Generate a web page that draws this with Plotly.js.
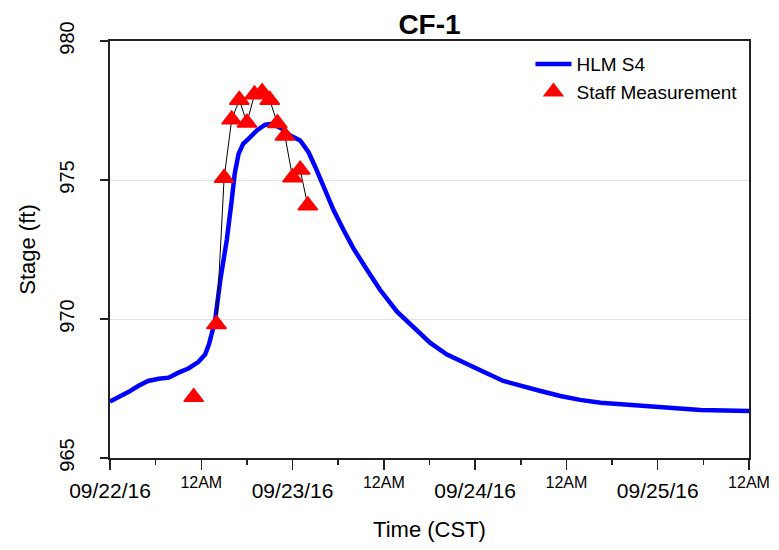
<!DOCTYPE html>
<html>
<head>
<meta charset="utf-8">
<script src="https://cdn.plot.ly/plotly-3.0.1.min.js"></script>
<style>html,body{margin:0;padding:0;background:#fff;}#chart{width:779px;height:550px;}</style>
</head>
<body>
<div id="chart"></div>
<script>
// Hours since 09/22/16 00:00 (CST)
var modelHours = [0, 1.1, 2.4, 3.7, 5.0, 6.4, 7.7, 9.0, 10.3, 11.6, 12.5, 13.0, 13.8, 14.5, 15.35, 16.0, 16.4, 16.9, 17.5, 18.2, 19.3, 20.4, 21.3, 22.6, 23.7, 25.0, 26.1, 27.0, 28.1, 29.4, 30.7, 32.0, 33.8, 35.5, 37.7, 39.9, 42.1, 44.3, 46.5, 49.1, 51.7, 53.9, 56.6, 59.2, 61.8, 64.5, 71.0, 77.6, 84.0];
var modelStage = [967.03, 967.17, 967.37, 967.59, 967.77, 967.85, 967.89, 968.07, 968.22, 968.45, 968.72, 969.08, 969.92, 971.4, 972.84, 974.27, 975.24, 975.94, 976.30, 976.48, 976.78, 976.99, 977.02, 976.84, 976.6, 976.42, 976.0, 975.46, 974.75, 973.91, 973.20, 972.54, 971.76, 971.05, 970.27, 969.68, 969.14, 968.72, 968.42, 968.10, 967.77, 967.59, 967.41, 967.23, 967.09, 966.99, 966.85, 966.73, 966.69];

var staffHours = [11, 14, 15, 16, 17, 18, 19, 20, 21, 22, 23, 24, 25, 26];
var staffStage = [967.19, 969.81, 975.07, 977.18, 977.88, 977.06, 978.08, 978.16, 977.88, 977.04, 976.59, 975.09, 975.37, 974.08];

var dateTickVals = [0, 24, 48, 72];
var dateTickText = ['09/22/16', '09/23/16', '09/24/16', '09/25/16'];
var noonTickVals = [12, 36, 60, 84];
var noonTickText = ['12AM', '12AM', '12AM', '12AM'];
var yTickVals = [965, 970, 975, 980];

var FONT = 'Liberation Sans, Arial, sans-serif';

// all major tick positions (dates + 12AM), labels only for dates on the main axis
var majorVals = dateTickVals.concat(noonTickVals).sort(function (a, b) { return a - b; });
var majorText = majorVals.map(function (v) {
  var i = dateTickVals.indexOf(v);
  return i >= 0 ? dateTickText[i] : ' ';
});

var traces = [
  {
    x: modelHours, y: modelStage, type: 'scatter', mode: 'lines', name: 'HLM S4',
    line: {color: '#0000ff', width: 4.5}
  },
  {
    x: staffHours.slice(1), y: staffStage.slice(1), type: 'scatter', mode: 'lines',
    showlegend: false, hoverinfo: 'skip',
    line: {color: '#000000', width: 1}
  },
  {
    x: staffHours, y: staffStage, type: 'scatter', mode: 'markers', name: 'Staff Measurement',
    xaxis: 'x2',
    marker: {symbol: 'triangle-up', size: 17, color: '#ff0000', line: {color: '#ff0000', width: 1.5}}
  }
];

var layout = {
  width: 779, height: 550,
  margin: {l: 110, r: 30, t: 41, b: 92},
  paper_bgcolor: '#ffffff', plot_bgcolor: '#ffffff',
  font: {family: FONT, color: '#000000'},
  showlegend: true,
  title: {
    text: 'CF-1', xref: 'paper', x: 0.5, xanchor: 'center',
    yref: 'container', y: 0.956, yanchor: 'middle',
    font: {family: FONT, size: 28, weight: 'bold', color: '#000000'}
  },
  xaxis: {
    range: [0, 84],
    tickmode: 'array', tickvals: majorVals, ticktext: majorText,
    ticks: 'outside', ticklen: 10, tickwidth: 1.5, tickcolor: '#222222',
    ticklabelstandoff: 3,
    tickfont: {family: FONT, size: 21, color: '#000000'},
    minor: {dtick: 6, tick0: 0, ticks: 'outside', ticklen: 5, tickwidth: 1.5, tickcolor: '#222222', showgrid: false},
    showgrid: false, zeroline: false,
    showline: true, linecolor: '#222222', linewidth: 2, mirror: true,
    title: {text: 'Time (CST)', font: {family: FONT, size: 22, color: '#000000'}, standoff: 20}
  },
  xaxis2: {
    range: [0, 84], overlaying: 'x', anchor: 'y', side: 'bottom',
    tickmode: 'array', tickvals: noonTickVals, ticktext: noonTickText,
    ticks: '', ticklen: 0, ticklabelstandoff: 13,
    tickfont: {family: FONT, size: 16, color: '#000000'},
    showgrid: false, zeroline: false, showline: false
  },
  yaxis: {
    range: [965, 980],
    tickmode: 'array', tickvals: yTickVals,
    ticks: 'outside', ticklen: 8, tickwidth: 1.5, tickcolor: '#222222',
    tickangle: -90, ticklabelstandoff: 18,
    tickfont: {family: FONT, size: 20, color: '#000000'},
    showgrid: true, gridcolor: '#e2e2e2', gridwidth: 1,
    zeroline: false,
    showline: true, linecolor: '#222222', linewidth: 2, mirror: true,
    title: {text: 'Stage (ft)', font: {family: FONT, size: 22, color: '#000000'}, standoff: 14}
  },
  legend: {
    x: 0.658, xanchor: 'left', y: 0.99, yanchor: 'top',
    bgcolor: 'rgba(0,0,0,0)', borderwidth: 0,
    font: {family: FONT, size: 19, color: '#000000'},
    itemwidth: 36
  }
};

Plotly.newPlot('chart', traces, layout, {staticPlot: true, displayModeBar: false});
</script>
</body>
</html>
